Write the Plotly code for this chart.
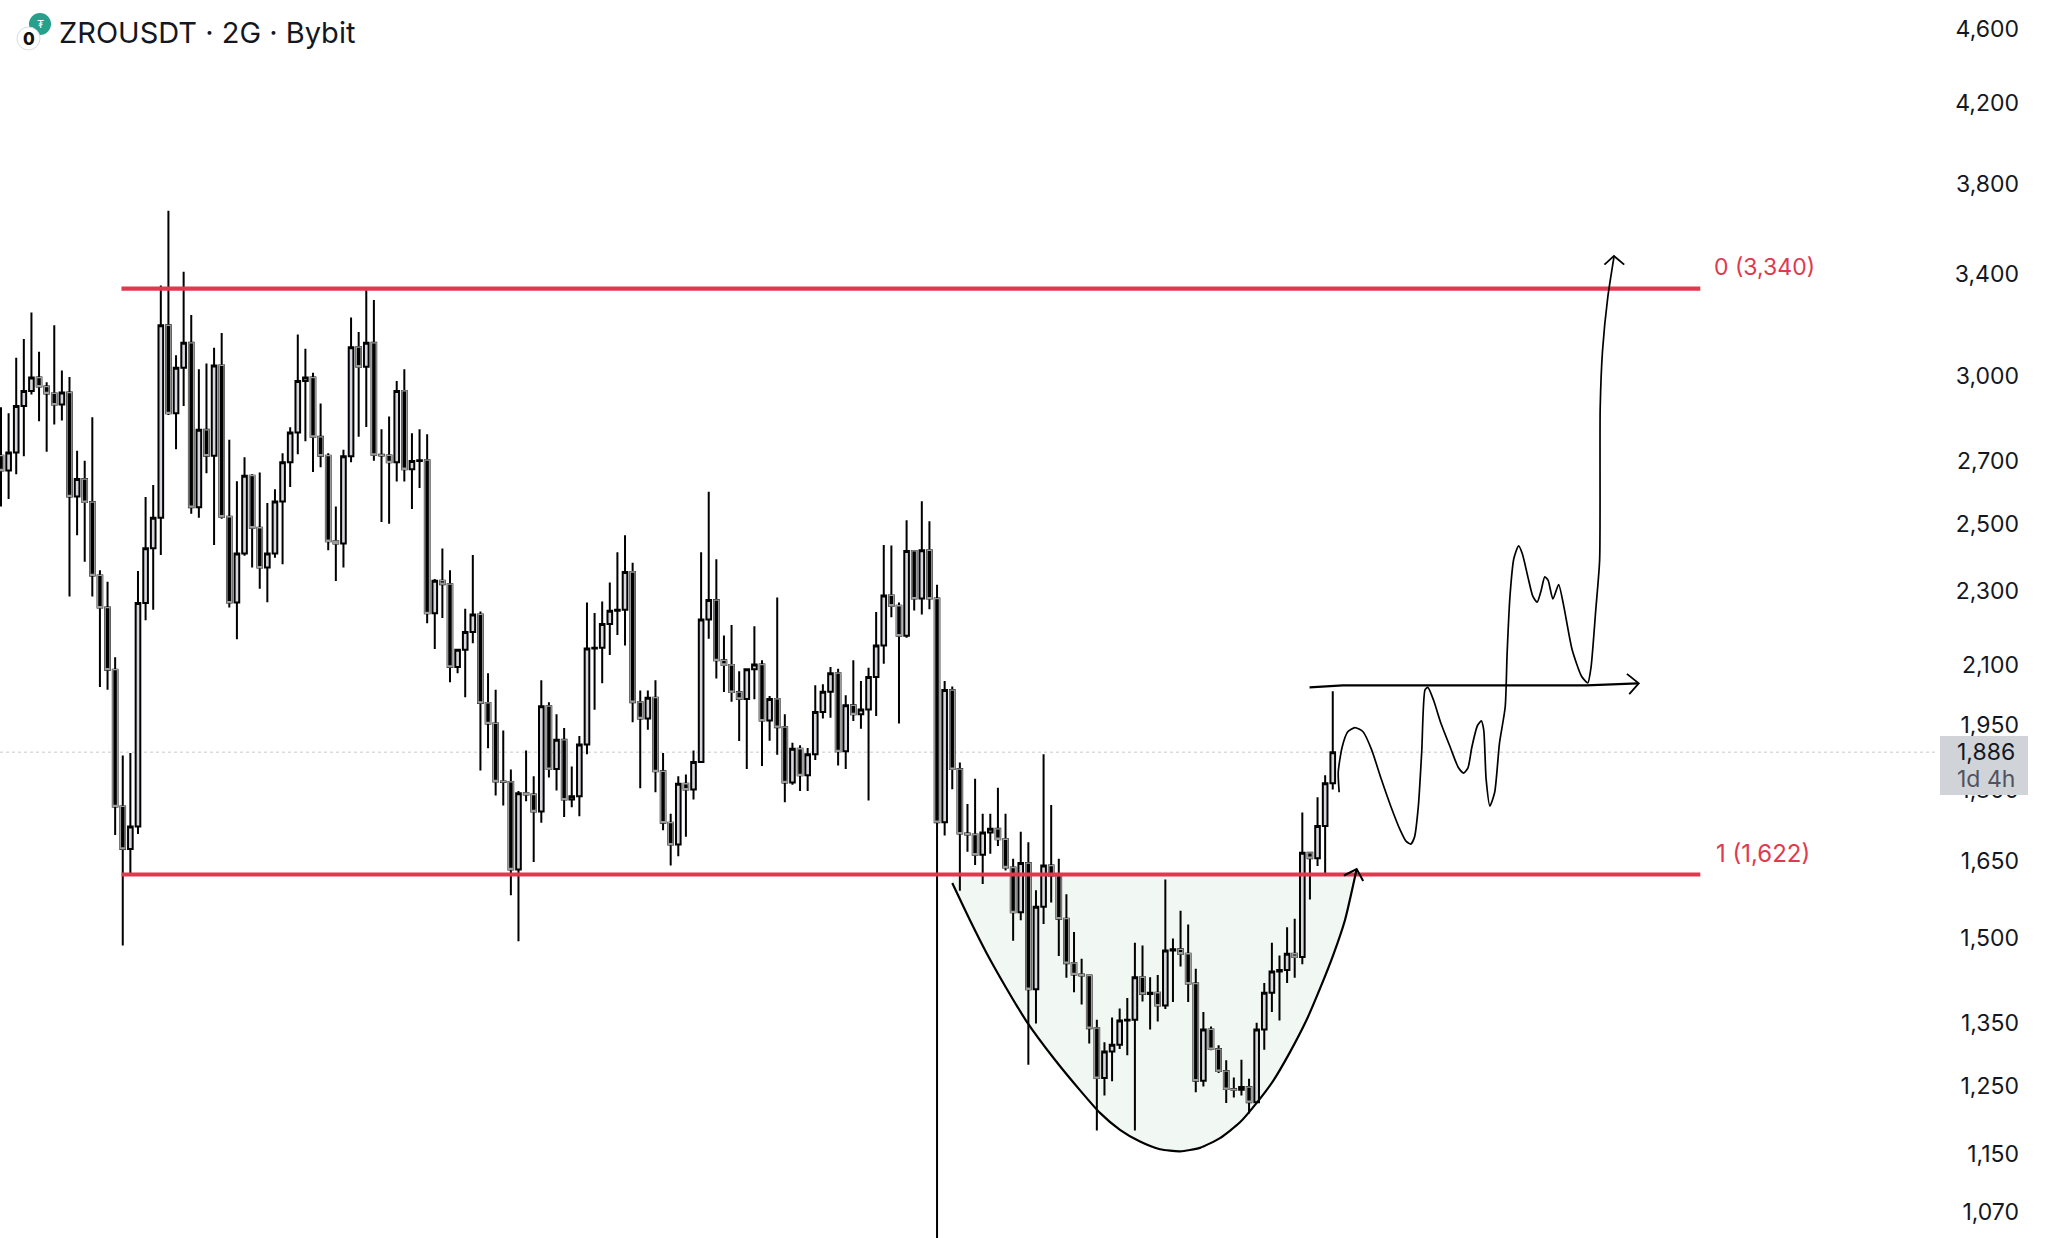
import plotly.graph_objects as go

first_open = 2718
closes = [2669,2729,2890,2944,2993,2960,2935,2895,2938,2585,
2641,2567,2345,2254,2088,1764,1674,1721,2267,2425,
2518,3192,2864,3029,3124,2551,2806,2718,3038,2521,
2268,2409,2652,2487,2368,2409,2569,2696,2797,2980,
2993,2782,2718,2446,2439,2716,3107,3033,3124,2721,
2719,2696,2944,2673,2700,2703,2238,2330,2320,2095,
2140,2187,2235,2004,1954,1819,1818,1632,1793,1790,
1753,1996,1847,1915,1779,1786,1904,2143,2145,2209,
2245,2248,2355,2006,1966,2017,1842,1729,1683,1814,
1801,1863,2221,2275,2112,2100,2031,2014,2089,2101,
1961,2014,1945,1817,1894,1833,1881,1982,2032,2079,
1888,1998,1976,1988,2069,2151,2288,2259,2177,2417,
2279,2419,2279,1730,2036,1847,1706,1704,1662,1708,
1716,1694,1636,1548,1645,1408,1559,1640,1620,1536,
1454,1434,1432,1342,1262,1304,1315,1355,1356,1429,
1400,1402,1380,1477,1479,1471,1418,1258,1340,1308,
1273,1245,1244,1248,1225,1340,1402,1439,1442,1471,
1465,1666,1655,1722,1815,1886]
highs = [2885,2864,3067,3139,3243,3090,2976,3192,3019,2995,
2735,2701,2850,2360,2327,2120,1878,1884,2358,2583,
2622,3353,3676,3076,3410,3233,3024,3045,3105,3162,
2772,2634,2713,2657,2662,2564,2608,2726,2815,3156,
3101,3011,2899,2726,2553,2738,3223,3166,3333,3293,
2808,2853,2980,3024,2794,2808,2791,2335,2424,2360,
2140,2251,2405,2243,2079,2037,1937,1846,1798,1890,
1831,2061,2006,1976,1943,1853,1924,2268,2239,2271,
2325,2413,2464,2382,2035,2035,2061,1884,1748,1831,
1835,1890,2413,2600,2392,2178,2206,2084,2091,2203,
2112,2021,2282,1976,1908,1902,1896,2048,2051,2095,
2090,2023,2112,2059,2093,2242,2435,2433,2268,2510,
2417,2570,2507,2318,2059,2045,1862,1769,1825,1748,
1748,1805,1748,1654,1710,1688,1591,1881,1767,1654,
1583,1511,1462,1431,1356,1319,1360,1375,1393,1491,
1486,1429,1433,1612,1499,1551,1525,1444,1369,1345,
1314,1290,1263,1291,1261,1351,1419,1491,1468,1520,
1536,1751,1666,1784,1833,2033]
lows = [2553,2577,2657,2716,2931,2836,2731,2825,2839,2285,
2464,2385,2285,2044,2037,1703,1486,1622,1705,2219,
2248,2405,2858,2740,2890,2530,2518,2660,2435,2515,
2254,2168,2403,2368,2307,2269,2397,2378,2615,2723,
2767,2664,2680,2419,2329,2368,2696,2782,2816,2701,
2505,2499,2633,2633,2545,2612,2211,2142,2225,2056,
2079,2018,2157,1844,1895,1788,1766,1581,1494,1775,
1647,1729,1828,1799,1741,1762,1743,1881,1987,2053,
2126,2179,2151,1957,1804,1939,1795,1713,1640,1659,
1699,1779,1861,2169,2065,2031,2007,1912,1847,2013,
1854,1913,1880,1773,1812,1798,1798,1868,1966,1968,
1855,1847,1960,1941,1777,1972,2103,2227,1954,2172,
2246,2235,2249,1020,1702,1802,1590,1668,1641,1603,
1664,1680,1630,1495,1533,1283,1350,1526,1567,1467,
1428,1403,1382,1317,1183,1235,1257,1308,1298,1183,
1387,1340,1353,1374,1386,1448,1386,1240,1249,1306,
1270,1224,1232,1235,1208,1225,1307,1369,1355,1419,
1428,1452,1573,1639,1622,1801]
opens = [first_open] + closes[:-1]
index = list(range(len(closes)))

fib_top = 3340
fib_bottom = 1622
fib_x = [15.83, 223.3]
last_price = 1886

cup_x = [125.0,127.33,129.52,132.15,134.78,138.28,141.8,144.41,147.04,149.67,152.3,154.93,157.55,160.18,162.81,165.0,167.19,169.38,171.57,173.32,175.07,176.6,178.14]
cup_y = [1605,1533,1472,1409,1353,1294,1243,1209,1184,1167,1156,1153,1158,1172,1195,1224,1258,1303,1356,1409,1469,1533,1633]
cup_head_x = [176.47,178.14,179.0]
cup_head_y = [1620,1633,1609]

neck_x = [171.95,176.34,208.3,215.09]
neck_y = [2043,2048,2048,2053]
neck_head_x = [213.65,215.21,213.96]
neck_head_y = [2077,2053,2026]

wave_x = [175.84,175.72,176.22,176.97,177.91,178.98,180.1,181.36,182.61,183.87,184.62,185.25,185.75,186.25,186.69,187.13,187.5,188.26,189.2,190.45,191.52,192.2,192.77,193.27,194.02,194.52,194.84,195.15,195.65,196.28,196.91,197.66,197.91,198.29,198.79,199.42,199.92,200.67,201.3,201.86,202.36,202.86,203.3,203.93,204.68,205.31,206.44,207.69,208.51,208.94,209.57,210.07,210.14,210.45,211.14,211.95]
wave_y = [1795,1840,1897,1934,1944,1934,1892,1825,1765,1713,1690,1684,1699,1765,1887,2037,2043,2010,1955,1897,1850,1838,1850,1897,1949,1960,1938,1825,1765,1795,1907,1994,2129,2287,2394,2432,2408,2338,2285,2269,2300,2341,2331,2278,2319,2263,2141,2071,2054,2094,2250,2390,2881,3094,3305,3472]
wave_head_x = [210.7,211.95,213.3]
wave_head_y = [3440,3477,3440]

tick_vals = [1070,1150,1250,1350,1500,1650,1800,1950,2100,2300,2500,2700,3000,3400,3800,4200,4600]
tick_text = [f"{v:,}" for v in tick_vals]

W, H = 2048, 1238
R = 26
PW = W - R
def px(x): return x / PW
def py(y): return 1 - y / H

FONT = "Inter, 'Noto Sans', sans-serif"
INK = "#131722"
RED = "#e0394f"

fig = go.Figure()

fig.add_trace(go.Candlestick(x=index, open=opens, high=highs, low=lows, close=closes,
    increasing=dict(line=dict(color="#000000", width=2), fillcolor="#d5d7dc"),
    decreasing=dict(line=dict(color="#000000", width=2), fillcolor="#000000"),
    hoverinfo="skip", showlegend=False))

down = [i for i in index if closes[i] < opens[i]]
dn_o = [opens[i] for i in down]
dn_c = [closes[i] for i in down]
fig.add_trace(go.Candlestick(x=down, open=dn_o, high=dn_o, low=dn_c, close=dn_c,
    increasing=dict(line=dict(color="#9c9c9c", width=1.3), fillcolor="#000000"),
    decreasing=dict(line=dict(color="#9c9c9c", width=1.3), fillcolor="#000000"),
    hoverinfo="skip", showlegend=False))

for yv in (fib_top, fib_bottom):
    fig.add_trace(go.Scatter(x=fib_x, y=[yv, yv], mode="lines",
        line=dict(color=RED, width=4.2), hoverinfo="skip", showlegend=False))

for xs, ys, w, sh in [(cup_x, cup_y, 2.2, "spline"), (cup_head_x, cup_head_y, 2.0, "linear"),
                      (neck_x, neck_y, 2.2, "linear"), (neck_head_x, neck_head_y, 1.8, "linear"),
                      (wave_x, wave_y, 1.7, "spline"), (wave_head_x, wave_head_y, 1.8, "linear")]:
    fig.add_trace(go.Scatter(x=xs, y=ys, mode="lines",
        line=dict(color="#000000", width=w, shape=sh, smoothing=0.6),
        hoverinfo="skip", showlegend=False))

fill_x = cup_x[:-1] + [177.7, 125.0]
fill_y = cup_y[:-1] + [fib_bottom, fib_bottom]
path = "M " + " L ".join(f"{a},{b}" for a, b in zip(fill_x, fill_y)) + " Z"
shapes = [
    dict(type="path", path=path, xref="x", yref="y", layer="below",
         fillcolor="#f1f7f3", line=dict(width=0)),
    dict(type="line", xref="paper", yref="y", x0=0, x1=px(1937), y0=last_price, y1=last_price,
         layer="below", line=dict(color="#c9c9c9", width=1, dash="dot")),
    dict(type="rect", xref="paper", yref="paper", x0=px(1940), x1=px(2028), y0=py(795), y1=py(736),
         fillcolor="#d0d3d8", line=dict(width=0), layer="above"),
    dict(type="circle", xref="paper", yref="paper", x0=px(29), x1=px(51), y0=py(35), y1=py(13),
         fillcolor="#26a08a", line=dict(width=0)),
    dict(type="circle", xref="paper", yref="paper", x0=px(17), x1=px(40), y0=py(50), y1=py(27),
         fillcolor="#ffffff", line=dict(color="#d8dbe2", width=1)),
]

def note(x, y, text, size, color, weight=None, anchor="left"):
    return dict(xref="paper", yref="paper", x=px(x), y=py(y), text=text, showarrow=False,
                xanchor=anchor, yanchor="middle", align=anchor,
                font=dict(family=FONT, size=size, color=color, weight=weight))

annotations = [
    note(57, 33, "ZROUSDT · 2G · Bybit", 29, INK),
    note(40, 24, "₮", 11, "#ffffff", anchor="center"),
    note(28.5, 38.5, "0", 17, "#111111", weight=800, anchor="center"),
    note(1712, 267, "0 (3,340)", 23, RED),
    note(1714, 853, "1 (1,622)", 24, RED),
    note(2017, 752, "1,886", 23, INK, anchor="right"),
    note(2017, 779, "1d 4h", 23, "#50535e", anchor="right"),
]

fig.update_layout(
    width=W, height=H, autosize=False,
    margin=dict(l=0, r=R, t=0, b=0),
    paper_bgcolor="#ffffff", plot_bgcolor="#ffffff",
    showlegend=False, boxgap=0.13, shapes=shapes, annotations=annotations,
    xaxis=dict(range=[-0.1314, 265.57], visible=False, rangeslider=dict(visible=False), showgrid=False),
    yaxis=dict(type="log", range=[3.01544, 3.67823], side="right", ticklabelposition="inside",
               tickmode="array", tickvals=tick_vals, ticktext=tick_text, showgrid=False,
               zeroline=False, showline=False, ticks="",
               tickfont=dict(family=FONT, size=23, color=INK)),
)

fig.write_html("out.html", config=dict(displayModeBar=False),
               post_script="document.body.style.margin='0';document.documentElement.style.overflow='hidden';")
